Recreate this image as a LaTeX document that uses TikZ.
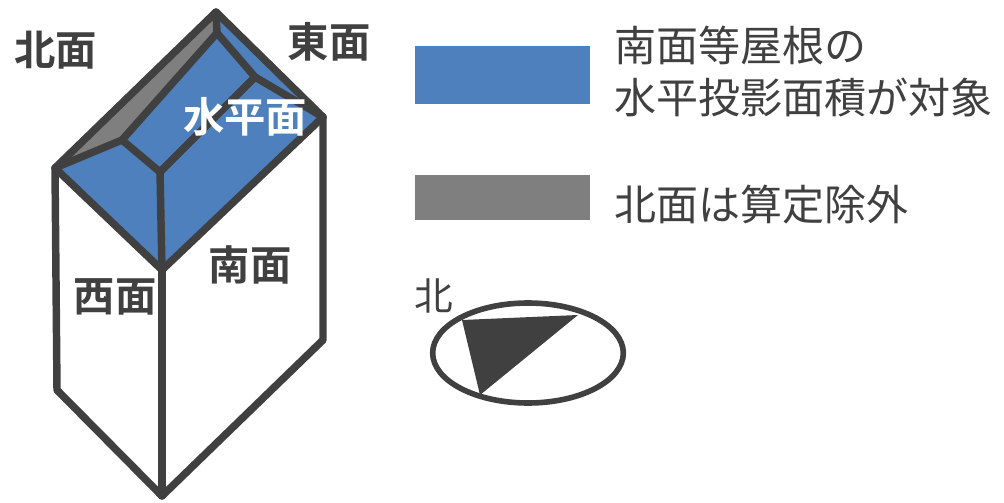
\documentclass[tikz,border=0pt]{standalone}
\usepackage{fontspec}
\usetikzlibrary{shapes.geometric}
\newfontfamily\jp{Noto Sans CJK JP}[BoldFont={Noto Sans CJK JP Bold}]
\definecolor{ink}{HTML}{404040}
\definecolor{roofblue}{HTML}{4D80BC}
\definecolor{roofgray}{HTML}{7F7F7F}
\begin{document}
\begin{tikzpicture}[x=0.75pt,y=-0.75pt,
  edge/.style={draw=ink,line width=5.6pt,line join=round,line cap=round},
  facelabel/.style={font=\jp\fontsize{31}{31}\selectfont\bfseries,text=ink,inner sep=0pt},
  legendtext/.style={font=\jp\fontsize{31.5}{31.5}\selectfont,text=ink,inner sep=0pt,anchor=west},
  swatch/.style={inner sep=0pt,minimum width=131pt,anchor=north west}]
\useasboundingbox (0,0) rectangle (1004,503);

% outline corners of the house
\coordinate (T) at (216,12);
\coordinate (R) at (323,117);
\coordinate (F) at (162,270);
\coordinate (L) at (55,168);
\coordinate (P1) at (122,140);
\coordinate (P3) at (217,33);
\coordinate (P2) at (255,77);
\coordinate (P4) at (160,172);
\coordinate (Lb) at (57,390);
\coordinate (Fb) at (162,496);
\coordinate (Rb) at (323,340);

% roof faces
\fill[roofblue] (T) -- (R) -- (F) -- (L) -- cycle;
\fill[roofgray] (T) -- (P3) -- (P1) -- (L) -- cycle;

% roof edges
\draw[edge] (T) -- (R) -- (F) -- (L) -- cycle;
\draw[edge] (L) -- (P1) -- (P3) -- (T);
\draw[edge] (P1) -- (P4) -- (P2) -- (P3);
\draw[edge] (P2) -- (R);
\draw[edge] (P4) -- (F);

% walls
\draw[edge] (L) -- (Lb) -- (Fb) -- (Rb) -- (R);
\draw[edge] (F) -- (Fb);

% face labels
\node[facelabel] (north) at (56,50) {北面};
\node[facelabel] (east) at (329,42) {東面};
\node[facelabel,text=white] (flat) at (245,117) {水平面};
\node[facelabel] (south) at (250,265) {南面};
\node[facelabel] (west) at (115,297) {西面};

% legend
\node[swatch,fill=roofblue,minimum height=43.5pt] (blueswatch) at (415,46) {};
\node[swatch,fill=roofgray,minimum height=33.75pt] (grayswatch) at (415,175) {};
\node[legendtext] (bl1) at (614,45) {南面等屋根の};
\node[legendtext] (bl2) at (614,97) {水平投影面積が対象};
\node[legendtext] (gl1) at (614,205) {北面は算定除外};

% compass
\node[draw=ink,line width=4.2pt,ellipse,minimum width=143pt,minimum height=75pt,inner sep=0pt] (dial) at (528,353) {};
\fill[ink] (462,320) -- (578,315) -- (480,395) -- cycle;
\node[font=\jp\fontsize{29}{29}\selectfont,text=ink,inner sep=0pt] (northmark) at (434,296) {北};
\end{tikzpicture}
\end{document}
